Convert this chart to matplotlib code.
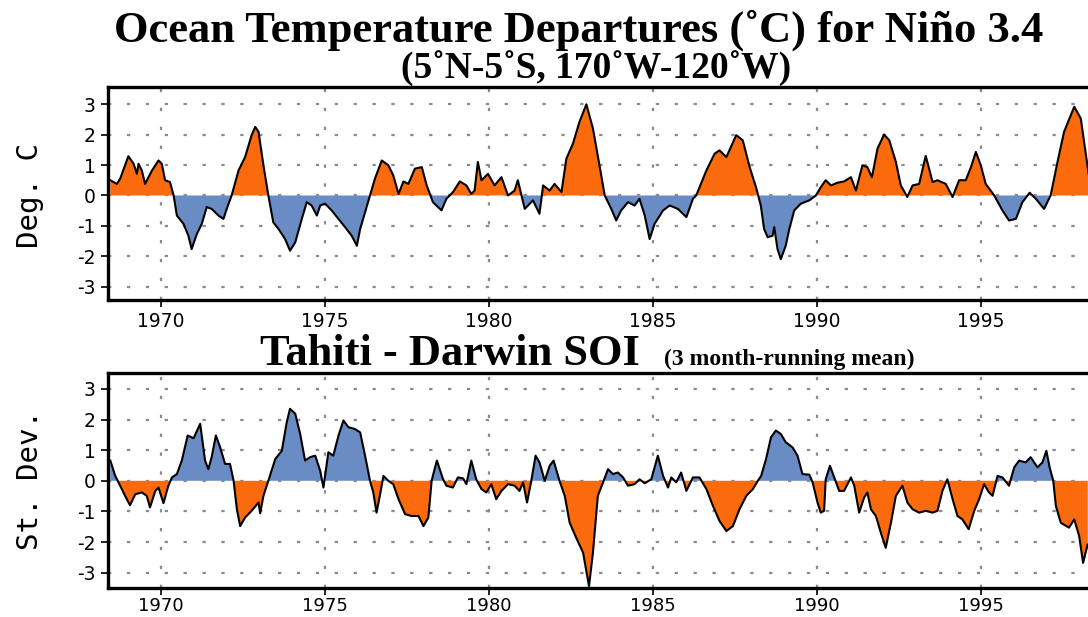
import numpy as np
import matplotlib.pyplot as plt

# Nino 3.4 anomalies (deg C)
nino_year = [1968.45, 1968.65, 1968.75, 1969.00, 1969.16, 1969.26, 1969.31, 1969.41, 1969.51, 1969.72,
             1969.92, 1970.02, 1970.12, 1970.27, 1970.38, 1970.48, 1970.68, 1970.83, 1970.93, 1971.09,
             1971.24, 1971.39, 1971.54, 1971.75, 1971.90, 1972.00, 1972.15, 1972.36, 1972.56, 1972.76,
             1972.87, 1972.97, 1973.12, 1973.27, 1973.42, 1973.58, 1973.78, 1973.93, 1974.09, 1974.29,
             1974.44, 1974.59, 1974.75, 1974.85, 1975.00, 1975.20, 1975.41, 1975.61, 1975.81, 1975.97,
             1976.07, 1976.22, 1976.37, 1976.52, 1976.73, 1976.93, 1977.08, 1977.24, 1977.39, 1977.54,
             1977.74, 1977.95, 1978.10, 1978.29, 1978.55, 1978.70, 1978.90, 1979.11, 1979.31, 1979.46,
             1979.56, 1979.66, 1979.77, 1979.97, 1980.17, 1980.38, 1980.58, 1980.78, 1980.88, 1980.99,
             1981.09, 1981.34, 1981.54, 1981.65, 1981.85, 1982.00, 1982.21, 1982.36, 1982.56, 1982.76,
             1982.97, 1983.17, 1983.37, 1983.53, 1983.73, 1983.88, 1984.03, 1984.24, 1984.44, 1984.59,
             1984.75, 1984.90, 1985.05, 1985.31, 1985.51, 1985.76, 1986.02, 1986.22, 1986.32, 1986.63,
             1986.88, 1987.03, 1987.24, 1987.54, 1987.74, 1987.95, 1988.15, 1988.29, 1988.39, 1988.50,
             1988.65, 1988.70, 1988.80, 1988.90, 1989.05, 1989.16, 1989.31, 1989.51, 1989.77, 1989.97,
             1990.12, 1990.27, 1990.43, 1990.63, 1990.83, 1991.04, 1991.19, 1991.39, 1991.54, 1991.68,
             1991.85, 1992.05, 1992.21, 1992.41, 1992.56, 1992.76, 1992.92, 1993.12, 1993.32, 1993.53,
             1993.68, 1993.93, 1994.14, 1994.34, 1994.54, 1994.70, 1994.85, 1995.00, 1995.15, 1995.41,
             1995.66, 1995.86, 1996.07, 1996.27, 1996.49, 1996.68, 1996.93, 1997.13, 1997.34, 1997.54,
             1997.85, 1998.05, 1998.29]
nino_val = [0.50, 0.38, 0.55, 1.29, 1.04, 0.71, 1.04, 0.82, 0.38, 0.82,
            1.15, 1.04, 0.50, 0.44, 0.00, -0.66, -0.93, -1.32, -1.76, -1.26,
            -0.93, -0.38, -0.44, -0.66, -0.77, -0.44, 0.00, 0.82, 1.26, 1.98,
            2.25, 2.09, 0.99, 0.00, -0.88, -1.10, -1.43, -1.81, -1.54, -0.77,
            -0.22, -0.33, -0.66, -0.33, -0.27, -0.49, -0.77, -1.04, -1.32, -1.65,
            -1.10, -0.55, 0.00, 0.55, 1.15, 0.99, 0.66, 0.05, 0.46, 0.38,
            0.88, 0.93, 0.33, -0.22, -0.49, -0.11, 0.11, 0.46, 0.33, 0.05,
            0.16, 1.10, 0.50, 0.71, 0.33, 0.60, 0.00, 0.16, 0.50, 0.00,
            -0.44, -0.16, -0.60, 0.33, 0.16, 0.38, 0.11, 1.21, 1.70, 2.42,
            2.99, 2.20, 0.99, 0.00, -0.44, -0.82, -0.49, -0.22, -0.33, -0.11,
            -0.66, -1.43, -0.93, -0.49, -0.33, -0.44, -0.71, -0.11, 0.00, 0.82,
            1.37, 1.48, 1.26, 1.98, 1.81, 0.93, 0.25, -0.33, -1.10, -1.37,
            -1.32, -1.04, -1.76, -2.09, -1.65, -1.10, -0.49, -0.27, -0.16, 0.00,
            0.27, 0.50, 0.33, 0.42, 0.46, 0.60, 0.16, 0.99, 0.93, 0.60,
            1.54, 2.00, 1.81, 1.10, 0.33, -0.05, 0.33, 0.38, 1.30, 0.44,
            0.50, 0.38, -0.05, 0.50, 0.50, 0.93, 1.43, 0.99, 0.38, 0.00,
            -0.49, -0.82, -0.77, -0.22, 0.09, -0.11, -0.44, 0.00, 1.10, 2.09,
            2.91, 2.53, 0.70]

# Tahiti - Darwin SOI (st. dev.)
soi_year = [1968.45, 1968.60, 1968.75, 1968.90, 1969.05, 1969.21, 1969.41, 1969.56, 1969.66, 1969.82,
            1969.92, 1970.07, 1970.22, 1970.33, 1970.48, 1970.63, 1970.81, 1970.99, 1971.19, 1971.34,
            1971.44, 1971.54, 1971.67, 1971.80, 1971.95, 1972.10, 1972.21, 1972.31, 1972.41, 1972.56,
            1972.76, 1972.97, 1973.02, 1973.12, 1973.27, 1973.48, 1973.68, 1973.83, 1973.93, 1974.09,
            1974.24, 1974.39, 1974.54, 1974.70, 1974.85, 1974.95, 1975.10, 1975.25, 1975.41, 1975.56,
            1975.71, 1975.91, 1976.07, 1976.22, 1976.37, 1976.47, 1976.57, 1976.67, 1976.78, 1976.93,
            1977.08, 1977.24, 1977.44, 1977.64, 1977.85, 1978.00, 1978.15, 1978.25, 1978.34, 1978.41,
            1978.60, 1978.70, 1978.90, 1979.05, 1979.21, 1979.31, 1979.46, 1979.61, 1979.77, 1979.92,
            1980.07, 1980.22, 1980.38, 1980.58, 1980.78, 1980.93, 1981.04, 1981.16, 1981.29, 1981.42,
            1981.54, 1981.70, 1981.85, 1981.97, 1982.15, 1982.31, 1982.46, 1982.66, 1982.87, 1983.05,
            1983.17, 1983.32, 1983.48, 1983.63, 1983.78, 1983.93, 1984.09, 1984.24, 1984.44, 1984.59,
            1984.75, 1984.95, 1985.15, 1985.31, 1985.46, 1985.56, 1985.71, 1985.86, 1986.02, 1986.22,
            1986.42, 1986.63, 1986.83, 1987.03, 1987.24, 1987.44, 1987.64, 1987.85, 1988.05, 1988.20,
            1988.30, 1988.45, 1988.60, 1988.75, 1988.90, 1989.05, 1989.26, 1989.41, 1989.56, 1989.77,
            1989.87, 1990.02, 1990.12, 1990.22, 1990.27, 1990.40, 1990.53, 1990.68, 1990.83, 1991.04,
            1991.14, 1991.29, 1991.44, 1991.54, 1991.65, 1991.80, 1991.95, 1992.10, 1992.26, 1992.41,
            1992.61, 1992.76, 1992.92, 1993.12, 1993.32, 1993.53, 1993.68, 1993.83, 1993.98, 1994.14,
            1994.29, 1994.44, 1994.63, 1994.80, 1994.95, 1995.10, 1995.25, 1995.36, 1995.51, 1995.66,
            1995.86, 1996.02, 1996.17, 1996.37, 1996.52, 1996.73, 1996.88, 1997.00, 1997.10, 1997.21,
            1997.29, 1997.44, 1997.69, 1997.85, 1998.00, 1998.12, 1998.26]
soi_val = [0.66, 0.16, -0.16, -0.49, -0.80, -0.44, -0.38, -0.49, -0.87, -0.33,
           -0.22, -0.73, -0.16, 0.11, 0.22, 0.66, 1.48, 1.39, 1.86, 0.66,
           0.38, 0.77, 1.48, 1.09, 0.55, 0.55, 0.00, -0.93, -1.48, -1.20,
           -0.98, -0.71, -1.06, -0.49, 0.00, 0.71, 0.98, 1.91, 2.35, 2.19,
           1.53, 0.66, 0.77, 0.82, 0.33, -0.22, 0.93, 0.82, 1.48, 1.97,
           1.75, 1.69, 1.58, 0.82, 0.00, -0.38, -1.04, -0.49, 0.16, 0.00,
           -0.11, -0.60, -1.09, -1.15, -1.15, -1.48, -1.20, 0.00, 0.38, 0.66,
           0.05, -0.16, -0.22, 0.11, 0.08, -0.11, 0.66, 0.05, -0.27, -0.38,
           -0.11, -0.60, -0.33, -0.11, -0.16, -0.33, -0.05, -0.71, 0.00, 0.82,
           0.60, 0.00, 0.49, 0.66, 0.00, -0.49, -1.37, -1.86, -2.35, -3.44,
           -2.35, -0.49, -0.05, 0.38, 0.22, 0.27, 0.11, -0.16, -0.11, 0.05,
           -0.08, 0.05, 0.82, 0.16, -0.22, 0.11, -0.05, 0.27, -0.33, 0.11,
           0.11, -0.27, -0.82, -1.31, -1.64, -1.48, -0.93, -0.49, -0.27, 0.00,
           0.16, 0.71, 1.42, 1.64, 1.53, 1.26, 1.09, 0.82, 0.22, 0.20,
           -0.05, -0.71, -1.04, -0.98, 0.05, 0.49, 0.11, -0.33, -0.33, 0.11,
           -0.16, -1.04, -0.55, -0.38, -0.93, -1.15, -1.69, -2.19, -1.37, -0.49,
           -0.16, -0.71, -0.93, -1.04, -0.98, -1.04, -0.98, -0.33, 0.05, -0.60,
           -1.15, -1.26, -1.58, -0.98, -0.60, -0.11, -0.38, -0.49, 0.16, 0.11,
           -0.16, 0.44, 0.66, 0.60, 0.77, 0.44, 0.60, 0.98, 0.44, 0.00,
           -0.82, -1.37, -1.53, -1.26, -1.80, -2.68, -2.08]

year_ticks = [1970, 1975, 1980, 1985, 1990, 1995]
val_ticks = [3, 2, 1, 0, -1, -2, -3]

orange = '#fb6a0c'
blue = '#6a8cc4'

plt.rcParams['axes.unicode_minus'] = False
plt.rcParams['font.family'] = 'DejaVu Sans'

fig = plt.figure(figsize=(10.88, 6.17), dpi=100)
ax1 = fig.add_axes([0.0993, 0.5138, 0.9007, 0.3452])
ax2 = fig.add_axes([0.0993, 0.047, 0.9007, 0.3485])


def panel(ax, x, y, pos_col, neg_col, ylim, pad):
    x = np.array(x)
    y = np.array(y)
    ax.fill_between(x, y, 0, where=y >= 0, interpolate=True, color=pos_col, lw=0)
    ax.fill_between(x, y, 0, where=y <= 0, interpolate=True, color=neg_col, lw=0)
    ax.plot(x, y, color='black', lw=1.5)
    ax.set_xlim(1968.38, 1998.27)
    ax.set_ylim(ylim)
    ax.set_xticks(year_ticks)
    ax.set_yticks(val_ticks)
    ax.grid(True, color='#8c8c8c', linestyle=(0, (1.5, 7)), lw=1.6)
    ax.set_axisbelow(True)
    for s in ['left', 'bottom', 'top']:
        ax.spines[s].set_linewidth(2.4)
    ax.spines['right'].set_visible(False)
    ax.tick_params(direction='out', length=5, width=1.2, labelsize=13.5, pad=4)
    ax.tick_params(axis='x', pad=pad)


panel(ax1, nino_year, nino_val, orange, blue, (-3.43, 3.56), 4)
panel(ax2, soi_year, soi_val, blue, orange, (-3.5, 3.52), 1.5)
ax2.tick_params(axis='x', labelsize=13)

fig.text(0.532, 0.932, 'Ocean Temperature Departures (˚C) for Niño 3.4', ha='center', va='baseline',
         family='Liberation Serif', weight='bold', fontsize=32)
fig.text(0.548, 0.874, '(5˚N-5˚S, 170˚W-120˚W)', ha='center', va='baseline',
         family='Liberation Serif', weight='bold', fontsize=27)
fig.text(0.239, 0.408, 'Tahiti - Darwin SOI', ha='left', va='baseline',
         family='Liberation Serif', weight='bold', fontsize=32)
fig.text(0.61, 0.408, '(3 month-running mean)', ha='left', va='baseline',
         family='Liberation Serif', weight='bold', fontsize=17)

fig.text(0.028, 0.683, 'Deg. C', rotation=90, ha='center', va='center',
         family='DejaVu Sans Mono', fontsize=21)
fig.text(0.028, 0.222, 'St. Dev.', rotation=90, ha='center', va='center',
         family='DejaVu Sans Mono', fontsize=21)

plt.savefig('out.png', dpi=100)
